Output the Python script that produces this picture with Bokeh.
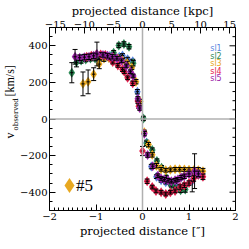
import numpy as np
from bokeh.plotting import figure
from bokeh.models import Range1d, LinearAxis, Span, Label, ColumnDataSource, FixedTicker, Title
from bokeh.embed import file_html
from bokeh.resources import INLINE

# ---------------- data ----------------
KPC_PER_ARCSEC = 8.0

sl1_x = [-1.30, -1.20, -1.10, -1.00, -0.90, -0.80, -0.70, -0.60, -0.50, -0.43, -0.32, -0.21, -0.11,
         0.09, 0.19, 0.30, 0.40, 0.50, 0.60, 0.70, 0.80, 0.90, 1.07]
sl1_v = [330, 335, 340, 345, 350, 348, 345, 340, 340, 347, 327, 316, 149,
         -128, -260, -315, -335, -345, -355, -365, -372, -380, -338]
sl1_e = [15, 12, 12, 12, 12, 10, 10, 10, 10, 10, 10, 10, 12,
         12, 12, 10, 10, 10, 10, 12, 12, 15, 60]

sl2_x = [-1.52, -1.42, -1.32, -1.22, -1.12, -1.02, -0.92, -0.82, -0.72, -0.62, -0.51, -0.40, -0.29, -0.20,
         0.02, 0.09, 0.21, 0.31, 0.41, 0.51, 0.62, 0.72, 0.82, 0.92]
sl2_v = [253, 310, 320, 325, 330, 330, 330, 335, 335, 362, 402, 410, 395, 305,
         3, -133, -170, -230, -266, -320, -360, -385, -390, -385]
sl2_e = [55, 25, 15, 12, 12, 12, 12, 10, 10, 12, 12, 12, 12, 15,
         12, 12, 12, 12, 12, 12, 12, 12, 12, 15]

sl3_x = [-1.28, -1.17, -1.05, -0.93, -0.83, -0.73, -0.63, -0.53, -0.43, -0.33, -0.23, -0.14, -0.05,
         0.04, 0.13, 0.21, 0.30, 0.40, 0.50, 0.60, 0.70, 0.80, 0.90, 1.00, 1.10, 1.20, 1.30]
sl3_v = [192, 203, 245, 300, 330, 335, 335, 330, 320, 305, 280, 204, 95,
         -73, -140, -196, -255, -275, -280, -278, -275, -275, -276, -278, -280, -280, -285]
sl3_e = [65, 65, 35, 25, 15, 12, 12, 10, 10, 10, 10, 12, 12,
         12, 12, 12, 12, 10, 10, 10, 10, 10, 10, 12, 15, 15, 15]

sl4_x = [-1.20, -1.10, -1.00, -0.90, -0.80, -0.71, -0.64, -0.53, -0.43, -0.39, -0.32, -0.21, -0.10, -0.08,
         0.00, 0.10, 0.21, 0.29, 0.40, 0.50, 0.60, 0.70, 0.81, 0.90, 1.00, 1.10, 1.20, 1.30]
sl4_v = [340, 345, 350, 352, 350, 337, 311, 293, 270, 258, 225, 195, 98, 70,
         -175, -340, -372, -393, -400, -410, -400, -393, -372, -362, -350, -325, -306, -316]
sl4_e = [12, 12, 12, 12, 12, 10, 10, 10, 10, 10, 10, 12, 12, 12,
         25, 12, 10, 10, 10, 10, 10, 10, 12, 12, 12, 15, 15, 15]

sl5_x = [-1.45, -1.35, -1.25, -1.15, -1.05, -0.98, -0.85, -0.75, -0.65, -0.55, -0.45, -0.35, -0.26, -0.20,
         -0.10, -0.06, 0.04, 0.11, 0.22, 0.33, 0.40, 0.47, 0.55, 0.62, 0.70, 0.76, 0.83, 0.90, 1.00, 1.12, 1.20]
sl5_v = [340, 335, 338, 340, 345, 355, 350, 345, 340, 332, 318, 290, 258, 235,
         110, 60, -80, -197, -258, -310, -325, -330, -335, -340, -335, -330, -320, -313, -300, -285, -300]
sl5_e = [40, 15, 15, 15, 15, 65, 12, 12, 12, 10, 10, 10, 10, 10,
         12, 12, 12, 12, 12, 10, 10, 10, 10, 10, 10, 10, 12, 12, 15, 95, 15]

names = ["sl1", "sl2", "sl3", "sl4", "sl5"]
colors = ["#5a87e0", "#2e8b57", "#e8a820", "#e6204e", "#9a22a8"]

y_major = [-400, -200, 0, 200, 400]
y_minor = [-450, -350, -300, -250, -150, -100, -50, 50, 100, 150, 250, 300, 350, 450]

# ---------------- figure ----------------
SERIF = "DejaVu Serif"

p = figure(width=241, height=241, x_range=Range1d(-2, 2), y_range=Range1d(-500, 500),
           output_backend="svg", toolbar_location=None,
           min_border_left=49, min_border_right=6, min_border_bottom=31, min_border_top=0)
p.grid.visible = False
p.outline_line_color = "black"
p.background_fill_color = "white"
p.border_fill_color = "white"

def style_axis(ax, label_size="10px"):
    ax.major_tick_in = 6
    ax.major_tick_out = 0
    ax.minor_tick_in = 3
    ax.minor_tick_out = 0
    ax.axis_line_color = "black"
    ax.major_tick_line_color = "black"
    ax.minor_tick_line_color = "black"
    ax.major_label_text_font = SERIF
    ax.major_label_text_font_size = label_size
    ax.major_label_text_color = "black"
    ax.axis_label_text_font = SERIF
    ax.axis_label_text_font_size = "11.5px"
    ax.axis_label_text_font_style = "normal"
    ax.axis_label_text_color = "black"
    ax.major_label_standoff = 2
    ax.axis_label_standoff = 1

# bottom
xb = p.xaxis[0]
xb.ticker = FixedTicker(ticks=[-2, -1, 0, 1, 2], minor_ticks=list(np.round(np.arange(-2, 2.001, 0.1), 2)))
xb.major_label_overrides = {-2: "\u22122", -1: "\u22121", 0: "0", 1: "1", 2: "2"}
xb.axis_label = "projected distance [\u2033]"
style_axis(xb)

# left
yl = p.yaxis[0]
yl.ticker = FixedTicker(ticks=y_major, minor_ticks=y_minor + y_major)
yl.major_label_overrides = {-400: "\u2212400", -200: "\u2212200", 0: "0", 200: "200", 400: "400"}
style_axis(yl)
yl.axis_label = None
yl.axis_label_standoff = 0
yl.major_label_standoff = 2

# y-axis title: v_observed [km/s] (subscript in its own inner column)
t_obs = Title(text="observed", align="left", offset=80, standoff=-5,
              text_font=SERIF, text_font_size="7px", text_font_style="normal", text_color="black")
p.add_layout(t_obs, "left")
t_v = Title(text="v\u2003\u2003\u2003[km/s]", align="left", offset=72, standoff=-9,
            text_font="Liberation Serif", text_font_size="12px", text_font_style="normal", text_color="black")
p.add_layout(t_v, "left")

# top (kpc)
p.extra_x_ranges = {"kpc": Range1d(-2 * KPC_PER_ARCSEC, 2 * KPC_PER_ARCSEC)}
top = LinearAxis(x_range_name="kpc",
                 ticker=FixedTicker(ticks=[-15, -10, -5, 0, 5, 10, 15], minor_ticks=list(range(-16, 17))),
                 axis_label="projected distance [kpc]")
top.major_label_overrides = {-15: "\u221215", -10: "\u221210", -5: "\u22125", 0: "0", 5: "5", 10: "10", 15: "15"}
style_axis(top)
top.axis_label_standoff = 0
top.major_label_standoff = 0
p.add_layout(top, "above")

# right-side inward ticks (frame edge), drawn as dash markers centred on the edge
p.scatter([2] * len(y_major), y_major, marker="dash", size=12, line_color="black", line_width=1)
p.scatter([2] * len(y_minor), y_minor, marker="dash", size=6, line_color="black", line_width=1)

# zero lines
p.add_layout(Span(location=0, dimension="height", line_color="#b0b0b0", line_width=1.5))
p.add_layout(Span(location=0, dimension="width", line_color="#b0b0b0", line_width=1.5))

# ---------------- series ----------------
XERR = 0.035
all_series = [(sl1_x, sl1_v, sl1_e), (sl2_x, sl2_v, sl2_e), (sl3_x, sl3_v, sl3_e),
              (sl4_x, sl4_v, sl4_e), (sl5_x, sl5_v, sl5_e)]
for (xs, vs, es), col in zip(all_series, colors):
    src = ColumnDataSource(dict(
        x=xs, v=vs,
        lo=[v - e for v, e in zip(vs, es)],
        hi=[v + e for v, e in zip(vs, es)],
        xl=[x - XERR for x in xs],
        xr=[x + XERR for x in xs],
    ))
    p.scatter("x", "v", source=src, marker="diamond", size=10, fill_color=col, line_color=None)
    p.segment(x0="x", y0="lo", x1="x", y1="hi", source=src, line_color="black", line_width=1)
    p.segment(x0="xl", y0="v", x1="xr", y1="v", source=src, line_color="black", line_width=1)
    p.scatter("x", "lo", source=src, marker="dash", size=5, line_color="black", line_width=1)
    p.scatter("x", "hi", source=src, marker="dash", size=5, line_color="black", line_width=1)

# legend texts
leg_x = [1.58] * 5
leg_y = [385, 344, 303, 262, 221]
for nm, col, lx, ly in zip(names, colors, leg_x, leg_y):
    p.add_layout(Label(x=lx, y=ly, text=nm, text_color=col, text_font="DejaVu Sans",
                       text_font_size="8px", text_align="center", text_baseline="middle"))

# "#5" tag
tag_x = [-1.57]
tag_y = [-363]
p.scatter(tag_x, tag_y, marker="diamond", size=15, fill_color=colors[2], line_color=None)
p.add_layout(Label(x=-1.43, y=-365, text="#5", text_font="Liberation Serif",
                   text_font_size="17px", text_color="black", text_baseline="middle", text_align="left"))

open("out.html", "w").write(file_html(p, INLINE))
